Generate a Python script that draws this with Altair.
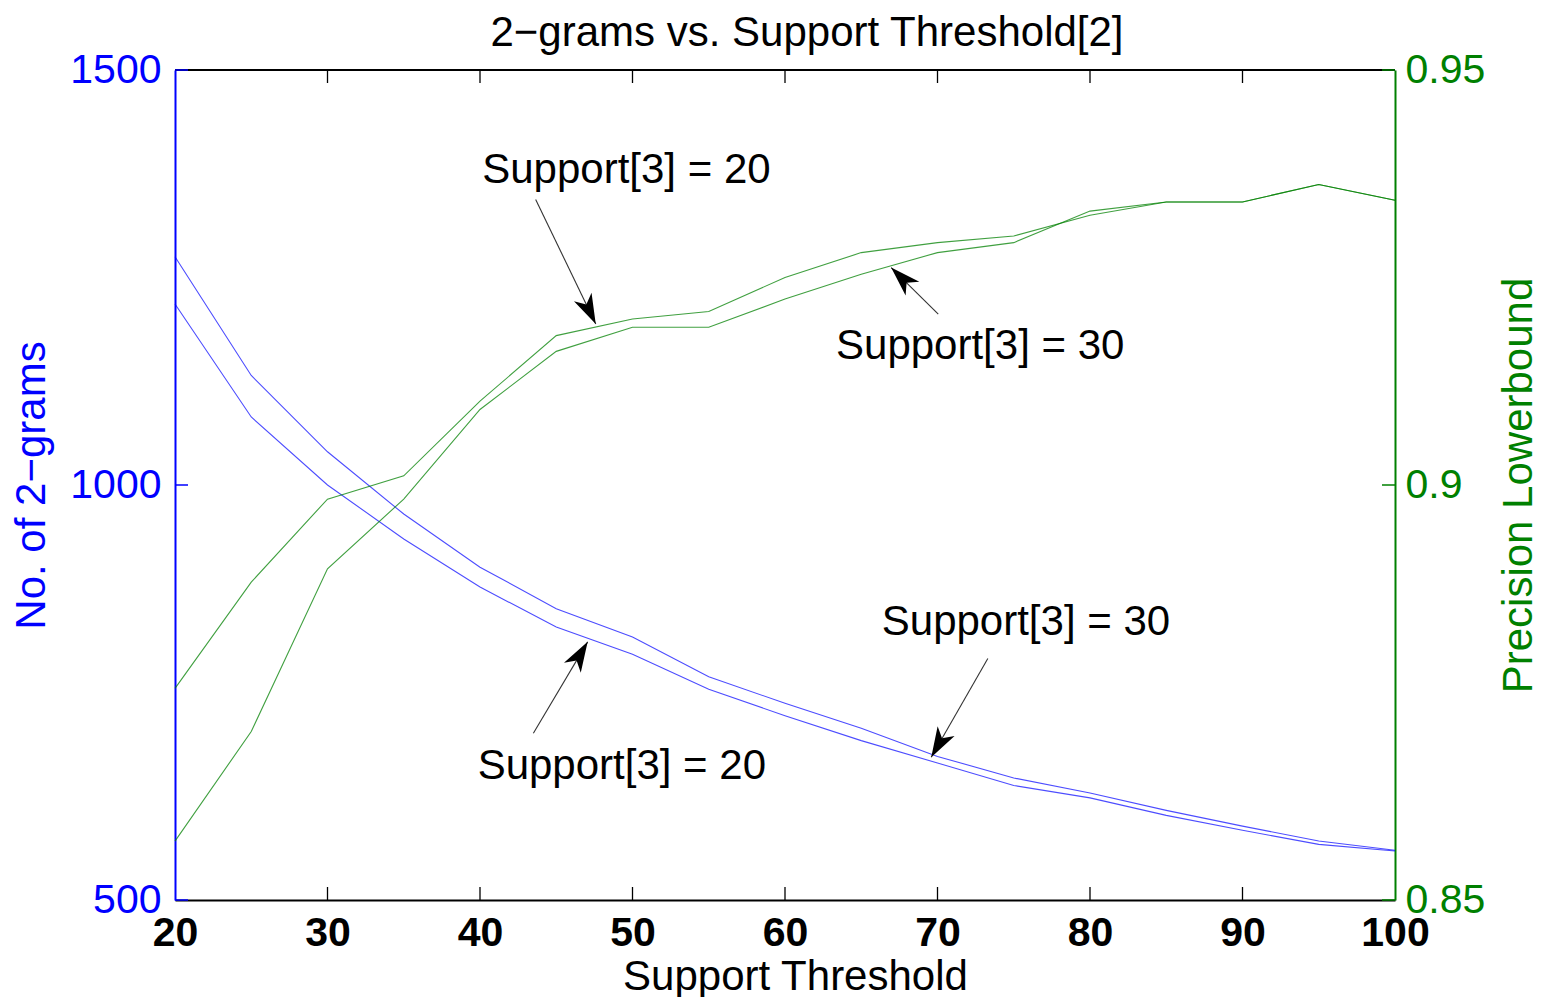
import math
import altair as alt
import pandas as pd

# ---------------- data ----------------
support = [20, 25, 30, 35, 40, 45, 50, 55, 60, 65, 70, 75, 80, 85, 90, 95, 100]
ngrams_s20 = [1218, 1082, 1000, 935, 877, 829, 796, 754, 722, 692, 665, 638, 623, 602, 584, 567, 559]
ngrams_s30 = [1275, 1132, 1040, 965, 901, 851, 817, 769, 737, 707, 673, 647, 629, 608, 589, 571, 560]
prec_s20 = [0.8755, 0.8883, 0.8983, 0.9011, 0.9101, 0.9180, 0.9200, 0.9209, 0.9250, 0.9280,
            0.9292, 0.9300, 0.9325, 0.9341, 0.9341, 0.9362, 0.9343]
prec_s30 = [0.8571, 0.8703, 0.8899, 0.8983, 0.9091, 0.9161, 0.9190, 0.9190, 0.9224, 0.9254,
            0.9280, 0.9292, 0.9330, 0.9341, 0.9341, 0.9362, 0.9343]

x_ticks = [20, 30, 40, 50, 60, 70, 80, 90, 100]
left_ticks = [500, 1000, 1500]
right_ticks = [0.85, 0.9, 0.95]

ann_text = ["Support[3] = 20", "Support[3] = 30", "Support[3] = 30", "Support[3] = 20"]
ann_text_x = [49.6, 72.8, 75.8, 49.3]
ann_text_y = [1379, 1168, 835, 662]
arrow_x_start = [43.65, 70.05, 73.3, 43.5]
arrow_y_start = [1344, 1206, 791, 701]
arrow_x_end = [47.59, 66.96, 69.59, 47.06]
arrow_y_end = [1194, 1262, 672, 811]

# ---------------- style ----------------
FONT = "Liberation Sans"
BLUE = "#0000ff"
GREEN = "#008000"
W, H = 1218, 832          # approximate plot area (used for arrow angles)
TICK = 13

x_scale = alt.Scale(domain=[20, 100], nice=False, zero=False)
yl_scale = alt.Scale(domain=[500, 1500], nice=False, zero=False)
yr_scale = alt.Scale(domain=[0.85, 0.95], nice=False, zero=False)

x_axis = alt.Axis(values=x_ticks, tickSize=0, grid=False, labelFont=FONT, labelFontSize=41,
                  labelFontWeight="bold", labelColor="black", labelPadding=13, labelFlush=False,
                  domainColor="black", domainWidth=2, title="Support Threshold",
                  titleFont=FONT, titleFontSize=42, titleFontWeight="normal", titleColor="black",
                  titlePadding=3, titleX=620, labelOverlap=False)
yl_axis = alt.Axis(values=left_ticks, tickSize=0, grid=False, labelFont=FONT, labelFontSize=41,
                   labelColor=BLUE, labelPadding=14, labelFlush=False, format="d",
                   domainColor=BLUE, domainWidth=2, title="No. of 2−grams",
                   titleFont=FONT, titleFontSize=42, titleFontWeight="normal", titleColor=BLUE,
                   titlePadding=16, labelOverlap=False)
yr_axis = alt.Axis(values=right_ticks, tickSize=0, grid=False, labelFont=FONT, labelFontSize=41,
                   labelColor=GREEN, labelPadding=10, labelFlush=False, format="~g",
                   domainColor=GREEN, domainWidth=2, title="Precision Lowerbound",
                   titleFont=FONT, titleFontSize=42, titleFontWeight="normal", titleColor=GREEN,
                   titlePadding=14, titleAngle=270, titleBaseline="top", labelOverlap=False)


def X(field):
    return alt.X(field, type="quantitative", scale=x_scale, axis=x_axis)


def YL(field):
    return alt.Y(field, type="quantitative", scale=yl_scale, axis=yl_axis)


def YR(field):
    return alt.Y(field, type="quantitative", scale=yr_scale, axis=yr_axis)


# ---------------- tables ----------------
blue_df = pd.DataFrame({
    "support": support * 2,
    "value": ngrams_s20 + ngrams_s30,
    "series": ["Support[3] = 20"] * len(support) + ["Support[3] = 30"] * len(support),
})
green_df = pd.DataFrame({
    "support": support * 2,
    "value": prec_s20 + prec_s30,
    "series": ["Support[3] = 20"] * len(support) + ["Support[3] = 30"] * len(support),
})

sx = W / 80.0
sy = H / 1000.0
angles = []
for xs, ys, xe, ye in zip(arrow_x_start, arrow_y_start, arrow_x_end, arrow_y_end):
    dx = (xe - xs) * sx
    dy = -(ye - ys) * sy
    angles.append(math.degrees(math.atan2(dx, -dy)) % 360)

arrow_df = pd.DataFrame({
    "xs": arrow_x_start, "ys": arrow_y_start,
    "xe": arrow_x_end, "ye": arrow_y_end, "ang": angles,
})
text_df = pd.DataFrame({"tx": ann_text_x, "ty": ann_text_y, "label": ann_text})
xt_df = pd.DataFrame({"t": x_ticks[1:-1]})
lt_df = pd.DataFrame({"v": left_ticks})
rt_df = pd.DataFrame({"v": right_ticks})

# ---------------- left (blue) group ----------------
blue_lines = alt.Chart(blue_df).mark_line(color=BLUE, strokeWidth=1.1, opacity=0.7).encode(
    x=X("support"), y=YL("value"), detail="series:N")

frame_top = alt.Chart(xt_df).mark_rule(color="black", strokeWidth=1.5).encode(
    x=alt.value(0), x2=alt.value("width"), y=alt.value(0))

bottom_ticks = alt.Chart(xt_df).mark_rule(color="black", strokeWidth=1.3).encode(
    x=X("t"), y=alt.value("height"), y2=alt.value({"expr": f"height - {TICK}"}))
top_ticks = alt.Chart(xt_df).mark_rule(color="black", strokeWidth=1.3).encode(
    x=X("t"), y=alt.value(0), y2=alt.value(TICK))
left_ticks_m = alt.Chart(lt_df).mark_rule(color=BLUE, strokeWidth=1.5).encode(
    y=YL("v"), x=alt.value(0), x2=alt.value(TICK))

arrows = alt.Chart(arrow_df).mark_rule(color="#333333", strokeWidth=1.1).encode(
    x=X("xs"), y=YL("ys"), x2=alt.X2("xe"), y2=alt.Y2("ye"))
heads = alt.Chart(arrow_df).mark_point(
    shape="M0,0 L-0.65,2 L0,1.45 L0.65,2 Z", filled=True, color="black", opacity=1,
    size=900, strokeWidth=0).encode(
    x=X("xe"), y=YL("ye"), angle=alt.Angle("ang:Q", scale=None))
texts = alt.Chart(text_df).mark_text(font=FONT, fontSize=42, color="black",
                                     align="center", baseline="middle").encode(
    x=X("tx"), y=YL("ty"), text="label:N")

left_group = alt.layer(blue_lines, frame_top, bottom_ticks, top_ticks, left_ticks_m,
                       arrows, heads, texts)

# ---------------- right (green) group ----------------
green_lines = alt.Chart(green_df).mark_line(color=GREEN, strokeWidth=1.1, opacity=0.75).encode(
    x=X("support"), y=YR("value"), detail="series:N")
right_ticks_m = alt.Chart(rt_df).mark_rule(color=GREEN, strokeWidth=1.5).encode(
    y=YR("v"), x=alt.value("width"), x2=alt.value({"expr": f"width - {TICK}"}))

right_group = alt.layer(green_lines, right_ticks_m)

chart = alt.layer(left_group, right_group).resolve_scale(y="independent").properties(
    width=1532, height=989,
    autosize=alt.AutoSizeParams(type="fit", contains="padding"),
    padding={"left": 2, "right": 0, "top": 4, "bottom": 0},
    title=alt.TitleParams("2−grams vs. Support Threshold[2]", font=FONT, fontSize=42,
                          fontWeight="normal", color="black", anchor="middle",
                          offset=-6, dx=22),
).configure_view(stroke=None).configure(background="white")

chart.save("out.html", embed_options={"renderer": "svg", "actions": False})
